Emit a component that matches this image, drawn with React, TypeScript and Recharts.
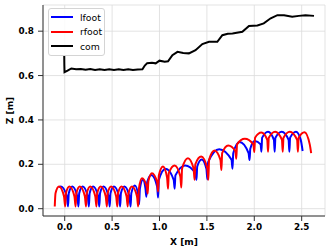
import { LineChart, Line, XAxis, YAxis, CartesianGrid, Legend } from 'recharts'

const xTicks = [0, 0.5, 1, 1.5, 2, 2.5]
const zTicks = [0, 0.2, 0.4, 0.6, 0.8]

// [x, z] samples
const lfoot = [
  [-0.065, 0.097], [-0.04, 0.1], [0.023, 0.055],
  [0.035, 0.01], [0.043, 0.07], [0.08, 0.1], [0.133, 0.055],
  [0.145, 0.01], [0.153, 0.07], [0.19, 0.1], [0.243, 0.055],
  [0.255, 0.01], [0.263, 0.07], [0.3, 0.1], [0.353, 0.055],
  [0.365, 0.01], [0.373, 0.07], [0.41, 0.1], [0.463, 0.055],
  [0.475, 0.01], [0.483, 0.07], [0.52, 0.1], [0.573, 0.055],
  [0.585, 0.01], [0.593, 0.07], [0.63, 0.1], [0.683, 0.055],
  [0.695, 0.01], [0.703, 0.07], [0.74, 0.105], [0.777, 0.06],
  [0.785, 0.02], [0.793, 0.09], [0.825, 0.13], [0.852, 0.09],
  [0.862, 0.054], [0.87, 0.12], [0.914, 0.152], [0.975, 0.1],
  [0.985, 0.05], [0.993, 0.13], [1.065, 0.18], [1.15, 0.13],
  [1.16, 0.09], [1.168, 0.15], [1.27, 0.195], [1.378, 0.16],
  [1.39, 0.13], [1.398, 0.19], [1.445, 0.222], [1.495, 0.18],
  [1.505, 0.132], [1.513, 0.21], [1.63, 0.268], [1.76, 0.22],
  [1.77, 0.18], [1.778, 0.25], [1.845, 0.3], [1.94, 0.25],
  [1.95, 0.219], [1.958, 0.27], [2.005, 0.305], [2.067, 0.29],
  [2.075, 0.257], [2.083, 0.32], [2.145, 0.347], [2.207, 0.31],
  [2.215, 0.257], [2.223, 0.32], [2.29, 0.347], [2.362, 0.31],
  [2.37, 0.257], [2.378, 0.32], [2.44, 0.347], [2.49, 0.31], [2.51, 0.26],
]

const rfoot = [
  [-0.105, 0.01], [-0.097, 0.07], [-0.06, 0.1], [-0.007, 0.055],
  [0.005, 0.01], [0.013, 0.07], [0.05, 0.1], [0.103, 0.055],
  [0.115, 0.01], [0.123, 0.07], [0.16, 0.1], [0.213, 0.055],
  [0.225, 0.01], [0.233, 0.07], [0.27, 0.1], [0.323, 0.055],
  [0.335, 0.01], [0.343, 0.07], [0.38, 0.1], [0.433, 0.055],
  [0.445, 0.01], [0.453, 0.07], [0.49, 0.1], [0.543, 0.055],
  [0.555, 0.01], [0.563, 0.07], [0.6, 0.1], [0.653, 0.055],
  [0.665, 0.01], [0.673, 0.07], [0.71, 0.1], [0.763, 0.055],
  [0.775, 0.01], [0.783, 0.09], [0.815, 0.137], [0.865, 0.1],
  [0.875, 0.068], [0.883, 0.125], [0.92, 0.16], [0.975, 0.12],
  [0.985, 0.077], [0.993, 0.15], [1.037, 0.19], [1.08, 0.14],
  [1.09, 0.09], [1.098, 0.16], [1.16, 0.195], [1.22, 0.145],
  [1.23, 0.095], [1.238, 0.18], [1.3, 0.227], [1.36, 0.18],
  [1.37, 0.13], [1.378, 0.2], [1.44, 0.235], [1.505, 0.18],
  [1.515, 0.13], [1.523, 0.22], [1.58, 0.262], [1.643, 0.22],
  [1.653, 0.174], [1.661, 0.25], [1.725, 0.285], [1.8, 0.26],
  [1.81, 0.225], [1.818, 0.29], [1.9, 0.315], [1.99, 0.29],
  [2.0, 0.255], [2.008, 0.32], [2.075, 0.343], [2.137, 0.31],
  [2.145, 0.257], [2.153, 0.32], [2.22, 0.347], [2.292, 0.31],
  [2.3, 0.257], [2.308, 0.32], [2.375, 0.347], [2.452, 0.31],
  [2.46, 0.257], [2.468, 0.32], [2.53, 0.345], [2.585, 0.29], [2.6, 0.25],
]

const com = [
  [-0.005, 0.688], [-0.004, 0.65], [-0.002, 0.615], [0.03, 0.622], [0.07, 0.632],
  [0.12, 0.628], [0.17, 0.63], [0.22, 0.626], [0.27, 0.629], [0.32, 0.625],
  [0.37, 0.628], [0.42, 0.625], [0.47, 0.628], [0.52, 0.625], [0.57, 0.628],
  [0.62, 0.625], [0.67, 0.628], [0.72, 0.625], [0.77, 0.627], [0.82, 0.628],
  [0.845, 0.645], [0.87, 0.656], [0.92, 0.658], [0.96, 0.655], [1.0, 0.667],
  [1.055, 0.662], [1.09, 0.664], [1.136, 0.692], [1.19, 0.707], [1.25, 0.702],
  [1.31, 0.7], [1.38, 0.714], [1.452, 0.742], [1.522, 0.752], [1.61, 0.752],
  [1.663, 0.782], [1.72, 0.788], [1.77, 0.79], [1.874, 0.797], [1.944, 0.823],
  [2.033, 0.826], [2.1, 0.835], [2.173, 0.858], [2.244, 0.872], [2.314, 0.872],
  [2.4, 0.865], [2.47, 0.869], [2.54, 0.872], [2.63, 0.869],
]

const pts = (a: number[][]) => a.map(([x, z]) => ({ x, z }))

const series = [
  { name: 'lfoot', color: '#0000ff', data: pts(lfoot), curve: 'monotoneX' },
  { name: 'rfoot', color: '#ff0000', data: pts(rfoot), curve: 'monotoneX' },
  { name: 'com', color: '#000000', data: pts(com), curve: 'linear' },
]

const font = 'DejaVu Sans'
const tickStyle = { fontFamily: font, fontSize: 8.8, fontWeight: 700, fill: '#000' }
const frame = { stroke: '#333', strokeWidth: 1 }

function LegendBox() {
  return (
    <div style={{
      boxSizing: 'border-box', width: 57, border: '1px solid #d4d4d4', borderRadius: 3,
      background: 'rgba(255,255,255,0.85)', padding: '1px 2px',
      fontFamily: font, fontSize: 9.3, color: '#000', lineHeight: 1, textAlign: 'left',
    }}>
      {series.map(s => (
        <div key={s.name} style={{ display: 'flex', alignItems: 'center', height: 14.5 }}>
          <svg width={22} height={4} style={{ flex: 'none' }}>
            <line x1={0} y1={2} x2={22} y2={2} stroke={s.color} strokeWidth={2} />
          </svg>
          <span style={{ marginLeft: 7, whiteSpace: 'nowrap' }}>{s.name}</span>
        </div>
      ))}
    </div>
  )
}

export default function App() {
  return (
    <div style={{ position: 'absolute', left: 0, top: 0, background: '#fff' }}>
      <LineChart width={332} height={252} margin={{ top: 5, right: 7, bottom: 0, left: 0 }}>
        <CartesianGrid stroke="#dcdcdc" strokeWidth={0.8} />
        <XAxis
          type="number" dataKey="x" domain={[-0.229, 2.746]} ticks={xTicks} allowDataOverflow
          tickFormatter={(v: number) => v.toFixed(1)} height={36} tick={tickStyle}
          tickSize={5} tickMargin={3} axisLine={frame} tickLine={frame}
          label={{ value: 'X [m]', position: 'insideBottom', offset: 7, fontFamily: font, fontSize: 9.1, fontWeight: 700, fill: '#000' }}
        />
        <YAxis
          type="number" domain={[-0.033, 0.918]} ticks={zTicks} allowDataOverflow
          tickFormatter={(v: number) => v.toFixed(1)} width={43} tick={tickStyle}
          tickSize={5} tickMargin={4} axisLine={frame} tickLine={frame}
          label={{ value: 'Z [m]', angle: -90, position: 'insideLeft', offset: 10, fontFamily: font, fontSize: 9.1, fontWeight: 700, fill: '#000', style: { textAnchor: 'middle' } }}
        />
        <XAxis xAxisId="top" orientation="top" type="number" domain={[0, 1]} height={0} tick={false} tickLine={false} axisLine={frame} />
        <YAxis yAxisId="right" orientation="right" type="number" domain={[0, 1]} width={0} tick={false} tickLine={false} axisLine={frame} />
        <Legend
          layout="horizontal" verticalAlign="middle" align="center"
          wrapperStyle={{ left: 48, top: 8, width: 57 }} content={() => <LegendBox />}
        />
        {series.map(s => (
          <Line
            key={s.name} name={s.name} data={s.data} dataKey="z" type={s.curve as any}
            stroke={s.color} strokeWidth={2} dot={false} activeDot={false}
            isAnimationActive={false}
          />
        ))}
      </LineChart>
    </div>
  )
}
